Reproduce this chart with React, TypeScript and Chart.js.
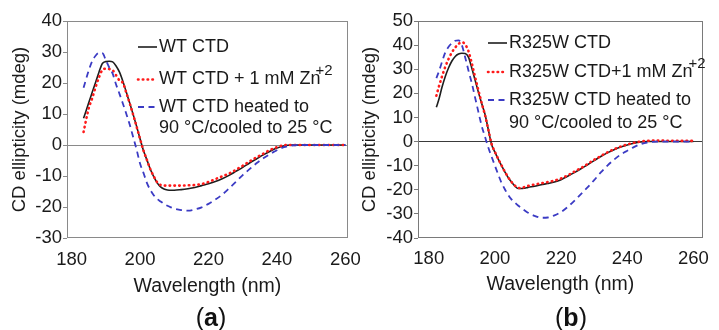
import React, { useEffect, useRef } from "react";
import { Chart, registerables } from "chart.js";

Chart.register(...registerables);

// ---------- DATA ----------
const wavelengthA = [183.5, 185, 186, 187, 188, 189, 190, 191, 192, 193, 194, 195, 196, 197, 198, 199, 200, 201, 202, 203, 204, 205, 206, 207, 208, 209, 210, 212, 214, 216, 218, 220, 222, 224, 226, 228, 230, 232, 234, 236, 238, 240, 242, 244, 246, 250, 255, 260];
const wtCtd = [8.6, 13.6, 16.9, 20.2, 23.5, 26.3, 26.9, 27.0, 26.8, 25.5, 23.5, 20.5, 17, 13.5, 9.8, 6, 2, -1.8, -4.8, -7.8, -10.2, -12.2, -13.5, -14.2, -14.5, -14.6, -14.6, -14.4, -14.1, -13.7, -13.1, -12.5, -11.8, -10.9, -9.8, -8.5, -7.2, -5.8, -4.5, -3.2, -2.0, -1.0, -0.3, 0, 0, 0, 0, 0];
const wtCtdZn = [4.2, 11.8, 15, 18.6, 21.8, 24.2, 24.6, 24.5, 24.1, 22.5, 20.8, 20, 16.8, 13.4, 9.7, 5.9, 2, -1.8, -4.8, -7.8, -10.1, -12, -12.9, -13.1, -13.1, -13.1, -13.1, -13.1, -13.0, -12.9, -12.6, -11.9, -11.0, -10.1, -9.2, -8.0, -6.7, -5.3, -4.0, -2.8, -1.6, -0.7, -0.1, 0, 0, 0, 0, 0];
const wtCtdHeated = [18.5, 24, 27, 28.8, 29.7, 29.6, 27.4, 25, 23, 19.5, 16.5, 13.3, 10, 6.5, 2.5, -1.5, -6, -9, -12.2, -14.5, -16.2, -17.4, -18.2, -19, -19.6, -20.1, -20.5, -21, -21.2, -20.8, -20.1, -19.0, -17.6, -16, -14, -11.9, -9.7, -7.8, -5.9, -4.3, -2.9, -1.7, -0.7, -0.2, 0, 0, 0, 0];

const wavelengthB = [182.3, 183, 184, 185, 186, 187, 188, 189, 190, 191, 192, 193, 194, 195, 196, 197, 198, 199, 200, 201, 202, 203, 204, 205, 206, 207, 208, 209, 210, 212, 214, 216, 218, 220, 222, 224, 226, 228, 230, 232, 234, 236, 238, 240, 242, 244, 246, 250, 255, 260];
const r325wCtd = [14.2, 17.2, 22.5, 27, 30.6, 33.4, 35.3, 36.3, 36.6, 36.5, 35, 30.5, 25.5, 20.5, 15.8, 11.3, 5, -1.2, -4.4, -7.3, -10, -12.6, -14.9, -16.8, -18.4, -19.5, -19.5, -19.3, -19, -18.5, -17.9, -17.4, -16.8, -15.8, -14.4, -12.9, -11.3, -9.6, -7.9, -6.2, -4.7, -3.4, -2.3, -1.4, -0.7, -0.2, 0, 0, 0, 0];
const r325wCtdZn = [19, 22.5, 27, 31, 34.3, 37, 39, 40.5, 41.2, 40.3, 37.5, 32.5, 26.8, 21.3, 16, 11, 5, -1, -4.3, -7.2, -9.9, -12.5, -14.8, -16.7, -18.2, -19.2, -19.3, -18.8, -18.4, -17.8, -17.3, -16.8, -16.2, -15.3, -14, -12.5, -11, -9.3, -7.6, -6, -4.5, -3.2, -2.1, -1.2, -0.5, 0, 0.3, 0.4, 0.3, 0.3];
const r325wCtdHeated = [26.3, 28.8, 33, 37, 39.3, 40.8, 41.8, 42, 40, 35, 29.5, 24.3, 18.3, 12.3, 6.5, 2, -2.5, -6.3, -10, -13.7, -17.1, -19.8, -22.1, -24, -25.3, -26.5, -27.6, -28.6, -29.5, -30.8, -31.6, -31.5, -30.6, -29.2, -27.1, -24.6, -21.8, -19, -16, -12.8, -10, -7.5, -5.4, -3.8, -2.3, -1.1, -0.4, 0, 0, 0];

const xTickValues = [180, 200, 220, 240, 260];

const labelsA = [["WT CTD"], ["WT CTD + 1 mM Zn"], ["WT CTD heated to", "90 °C/cooled to 25 °C"]];
const labelsB = [["R325W CTD"], ["R325W CTD+1 mM Zn"], ["R325W CTD heated to", "90 °C/cooled to 25 °C"]];
const superscripts = ["", "+2", ""];

const xTitle = "Wavelength (nm)";
const yTitle = "CD ellipticity (mdeg)";

// ---------- STYLES ----------
const FONT = "'Liberation Sans', Arial, Helvetica, sans-serif";
const TEXT = "#1a1a1a";
const seriesStyles = [
  { color: "#1e1e1e", width: 1.6, dash: [] as number[], cap: "butt" as CanvasLineCap, order: 3 },
  { color: "#ff1a1a", width: 2.6, dash: [0.5, 4.3], cap: "round" as CanvasLineCap, order: 2 },
  { color: "#3b3bc4", width: 1.8, dash: [6, 4.5], cap: "butt" as CanvasLineCap, order: 1 },
];

type PanelCfg = {
  left: number;
  width: number;
  wavelength: number[];
  series: number[][];
  labels: string[][];
  yMin: number;
  yMax: number;
  xMin: number;
  xMax: number;
  yAxisWidth: number;
  xAxisHeight: number;
  pad: { left: number; right: number; top: number; bottom: number };
  yTitlePad: number;
  xTickPad: number;
  zeroColor: string;
  frameColor: string;
  legend: { x: number; ys: number[]; second: number; supDx: number; supDy: number };
};

const frameAndLegend = {
  id: "frameAndLegend",
  afterDatasetsDraw(chart: any, _args: any, opts: any) {
    const { ctx, chartArea } = chart;
    ctx.save();
    ctx.strokeStyle = opts.frameColor;
    ctx.lineWidth = 1;
    ctx.strokeRect(
      Math.round(chartArea.left) + 0.5,
      Math.round(chartArea.top) + 0.5,
      Math.round(chartArea.right - chartArea.left) - 1,
      Math.round(chartArea.bottom - chartArea.top) - 1
    );
    const lg = opts.legend;
    const labels: string[][] = opts.labels;
    chart.data.datasets.forEach((ds: any, i: number) => {
      const y = lg.ys[i];
      ctx.save();
      ctx.strokeStyle = ds.borderColor;
      ctx.lineWidth = ds.borderWidth;
      ctx.setLineDash(ds.borderDash || []);
      ctx.lineCap = ds.borderCapStyle || "butt";
      ctx.beginPath();
      ctx.moveTo(lg.x, y);
      ctx.lineTo(lg.x + 19, y);
      ctx.stroke();
      ctx.restore();
      ctx.fillStyle = TEXT;
      ctx.font = `18px ${FONT}`;
      ctx.textBaseline = "middle";
      ctx.textAlign = "left";
      const tx = lg.x + 21;
      labels[i].forEach((line: string, k: number) => {
        ctx.fillText(line, tx, y + k * lg.second);
      });
      const sup = superscripts[i];
      if (sup) {
        ctx.font = `18px ${FONT}`;
        const w = ctx.measureText(labels[i][0]).width;
        ctx.font = `15px ${FONT}`;
        ctx.fillText(sup, tx + w + lg.supDx, y + lg.supDy);
      }
    });
    ctx.restore();
  },
};

function Panel({ cfg }: { cfg: PanelCfg }) {
  const ref = useRef<HTMLCanvasElement>(null);
  useEffect(() => {
    if (!ref.current) return;
    const chart = new Chart(ref.current, {
      type: "line",
      data: {
        datasets: cfg.series.map((vals, i) => ({
          label: cfg.labels[i].join(" "),
          data: cfg.wavelength.map((w, j) => ({ x: w, y: vals[j] })),
          borderColor: seriesStyles[i].color,
          borderWidth: seriesStyles[i].width,
          borderDash: seriesStyles[i].dash,
          borderCapStyle: seriesStyles[i].cap,
          order: seriesStyles[i].order,
          pointRadius: 0,
          fill: false,
          cubicInterpolationMode: "monotone",
        })),
      },
      options: {
        responsive: false,
        animation: false,
        devicePixelRatio: 1,
        layout: { padding: cfg.pad },
        plugins: {
          legend: { display: false },
          tooltip: { enabled: false },
          frameAndLegend: {
            frameColor: cfg.frameColor,
            legend: cfg.legend,
            labels: cfg.labels,
          },
        } as any,
        scales: {
          x: {
            type: "linear",
            min: cfg.xMin,
            max: cfg.xMax,
            afterBuildTicks: (s: any) => {
              s.ticks = xTickValues.map((v) => ({ value: v }));
            },
            afterFit: (s: any) => {
              s.height = cfg.xAxisHeight;
            },
            ticks: {
              font: { size: 18.5, family: FONT },
              color: TEXT,
              padding: cfg.xTickPad,
              maxRotation: 0,
              autoSkip: false,
              includeBounds: false,
            },
            grid: { display: false, drawTicks: false },
            border: { display: false },
            title: {
              display: true,
              text: xTitle,
              font: { size: 19.5, family: FONT },
              color: TEXT,
              padding: { top: 0, bottom: 0 },
            },
          },
          y: {
            type: "linear",
            min: cfg.yMin,
            max: cfg.yMax,
            afterFit: (s: any) => {
              s.width = cfg.yAxisWidth;
            },
            ticks: {
              stepSize: 10,
              autoSkip: false,
              font: { size: 18.5, family: FONT },
              color: TEXT,
              padding: 1,
            },
            grid: {
              color: (c: any) => (c.tick && c.tick.value === 0 ? cfg.zeroColor : "rgba(0,0,0,0)"),
              tickColor: cfg.frameColor,
              tickLength: 4,
              lineWidth: 1,
            },
            border: { display: false },
            title: {
              display: true,
              text: yTitle,
              font: { size: 18.5, family: FONT },
              color: TEXT,
              padding: { top: cfg.yTitlePad, bottom: 0 },
            },
          },
        },
      },
      plugins: [frameAndLegend],
    } as any);
    return () => chart.destroy();
  }, [cfg]);
  return (
    <canvas
      ref={ref}
      width={cfg.width}
      height={330}
      style={{ position: "absolute", left: cfg.left, top: 0, width: cfg.width, height: 330 }}
    />
  );
}

const panelA: PanelCfg = {
  left: 0,
  width: 372,
  wavelength: wavelengthA,
  series: [wtCtd, wtCtdZn, wtCtdHeated],
  labels: labelsA,
  yMin: -30,
  yMax: 40,
  xMin: 178.66,
  xMax: 260.66,
  yAxisWidth: 67,
  xAxisHeight: 60,
  pad: { left: 0, right: 18, top: 21, bottom: 32 },
  yTitlePad: 9,
  xTickPad: 11,
  zeroColor: "#8a8a8a",
  frameColor: "#8a8a8a",
  legend: { x: 138, ys: [47, 79.5, 107], second: 21, supDx: -5, supDy: -9 },
};

const panelB: PanelCfg = {
  left: 360,
  width: 359,
  wavelength: wavelengthB,
  series: [r325wCtd, r325wCtdZn, r325wCtdHeated],
  labels: labelsB,
  yMin: -40,
  yMax: 50,
  xMin: 176.75,
  xMax: 262.85,
  yAxisWidth: 58,
  xAxisHeight: 58,
  pad: { left: 0, right: 5, top: 21, bottom: 34 },
  yTitlePad: -1,
  xTickPad: 10,
  zeroColor: "#3a3a3a",
  frameColor: "#7a7a7a",
  legend: { x: 128, ys: [43, 72, 100], second: 23, supDx: -4, supDy: -8 },
};

const capStyle: React.CSSProperties = {
  position: "absolute",
  top: 302,
  width: 80,
  textAlign: "center",
  fontFamily: FONT,
  fontSize: 25,
  lineHeight: "30px",
  color: "#111",
};

export default function App() {
  return (
    <div
      style={{
        position: "fixed",
        left: 0,
        top: 0,
        width: 719,
        height: 330,
        overflow: "hidden",
        background: "#fff",
      }}
    >
      <Panel cfg={panelA} />
      <Panel cfg={panelB} />
      <div style={{ ...capStyle, left: 171 }}>
        (<b>a</b>)
      </div>
      <div style={{ ...capStyle, left: 531 }}>
        (<b>b</b>)
      </div>
    </div>
  );
}
